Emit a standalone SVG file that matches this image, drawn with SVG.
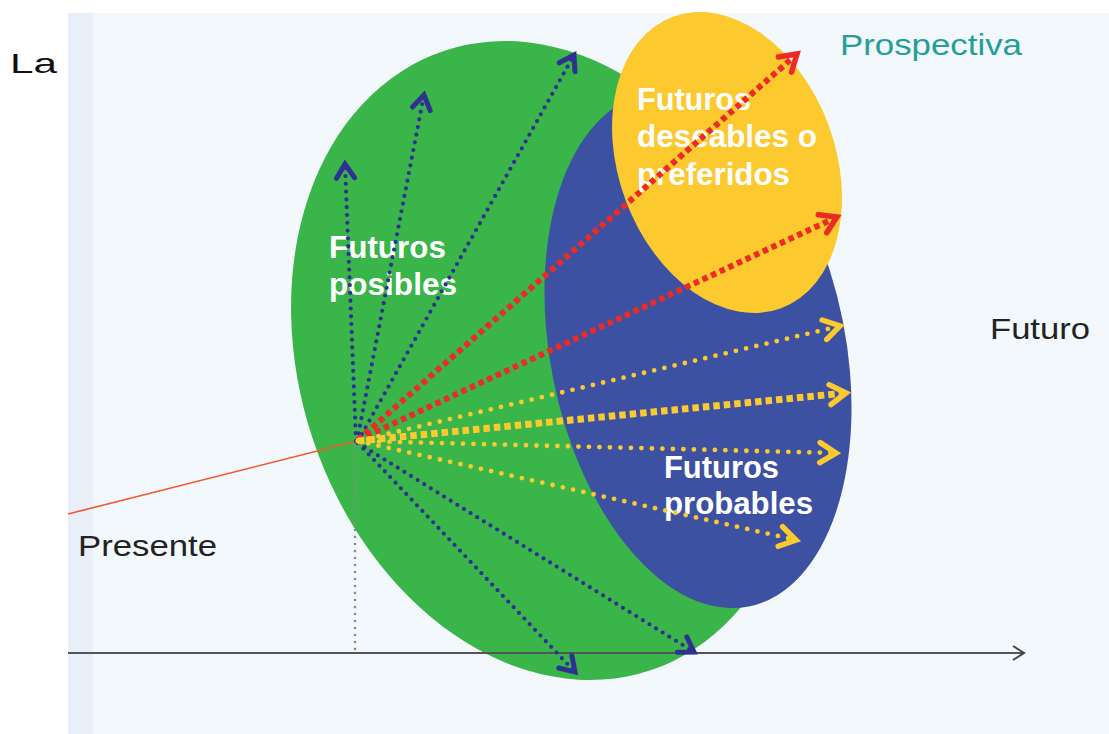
<svg xmlns="http://www.w3.org/2000/svg" width="1109" height="734" viewBox="0 0 1109 734">
<style>
.lbl{font-family:"Liberation Sans",Arial,sans-serif;font-size:30px;fill:#222}
.wt{font-family:"Liberation Sans",Arial,sans-serif;font-size:31px;font-weight:bold;fill:#ffffff}
.blue{fill:none;stroke:#2e3192;stroke-width:4.2;stroke-linecap:round;stroke-dasharray:0 7.8;marker-end:url(#mb)}
.red{fill:none;stroke:#ee2a24;stroke-width:6;stroke-dasharray:5.5 4;marker-end:url(#mr)}
.yt{fill:none;stroke:#fcc92f;stroke-width:4.8;stroke-linecap:round;stroke-dasharray:0 10.5;marker-end:url(#my)}
.yk{fill:none;stroke:#fcc92f;stroke-width:7;stroke-dasharray:6.5 4;marker-end:url(#my)}
</style>
<defs>
<marker id="mb" markerUnits="userSpaceOnUse" viewBox="-20 -14 24 28" refX="0" refY="0" markerWidth="24" markerHeight="28" orient="auto" overflow="visible">
<path d="M-14,-9 L0,0 L-14,9" fill="none" stroke="#2e3192" stroke-width="5" stroke-linecap="round"/>
</marker>
<marker id="mr" markerUnits="userSpaceOnUse" viewBox="-20 -14 24 28" refX="0" refY="0" markerWidth="24" markerHeight="28" orient="auto" overflow="visible">
<path d="M-16,-10 L0,0 L-16,10" fill="none" stroke="#ee2a24" stroke-width="5.5" stroke-linecap="round"/>
</marker>
<marker id="my" markerUnits="userSpaceOnUse" viewBox="-20 -14 24 28" refX="0" refY="0" markerWidth="24" markerHeight="28" orient="auto" overflow="visible">
<path d="M-16,-10 L0,0 L-16,10" fill="none" stroke="#fcc92f" stroke-width="5.5" stroke-linecap="round"/>
</marker>
<marker id="ma" markerUnits="userSpaceOnUse" viewBox="-14 -10 16 20" refX="0" refY="0" markerWidth="16" markerHeight="20" orient="auto" overflow="visible">
<path d="M-11,-7 L0,0 L-11,7" fill="none" stroke="#444" stroke-width="2"/>
</marker>
</defs>
<rect x="0" y="0" width="1109" height="734" fill="#ffffff"/>
<rect x="68" y="13" width="1041" height="721" fill="#f3f8fc"/>
<rect x="68" y="13" width="25" height="721" fill="#e8eff8"/>
<g id="node-posibles">
<ellipse cx="547.5" cy="360.5" rx="247.5" ry="326.5" transform="rotate(-18.4 547.5 360.5)" fill="#39b54a"/>
<text class="wt" x="329" y="258" textLength="117" lengthAdjust="spacingAndGlyphs">Futuros</text>
<text class="wt" x="329" y="295" textLength="128" lengthAdjust="spacingAndGlyphs">posibles</text>
</g>
<g id="node-probables">
<ellipse cx="698" cy="350" rx="147.7" ry="261.4" transform="rotate(-11.2 698 350)" fill="#3d51a3"/>
<text class="wt" x="664" y="478" textLength="115" lengthAdjust="spacingAndGlyphs">Futuros</text>
<text class="wt" x="664" y="514" textLength="149" lengthAdjust="spacingAndGlyphs">probables</text>
</g>
<g id="node-deseables">
<ellipse cx="727" cy="162.5" rx="108.2" ry="155.4" transform="rotate(-20.4 727 162.5)" fill="#fcc92f"/>
<text class="wt" x="637" y="110" textLength="114" lengthAdjust="spacingAndGlyphs">Futuros</text>
<text class="wt" x="637" y="147" textLength="180" lengthAdjust="spacingAndGlyphs">deseables o</text>
<text class="wt" x="637" y="185" textLength="153" lengthAdjust="spacingAndGlyphs">preferidos</text>
</g>
<g id="connectors">
<line x1="68" y1="653" x2="1024" y2="653" stroke="#555" stroke-width="2" marker-end="url(#ma)"/>
<line x1="355" y1="446" x2="355" y2="651" stroke="#8a8a8a" stroke-width="2.6" stroke-linecap="round" stroke-dasharray="0 7"/>
<line x1="68" y1="514" x2="357" y2="441" stroke="#f05a28" stroke-width="1.6"/>
<line class="blue" x1="356" y1="441" x2="345" y2="164"/>
<line class="blue" x1="357" y1="441" x2="424" y2="95"/>
<line class="blue" x1="358" y1="441" x2="574" y2="55"/>
<line class="blue" x1="358" y1="443" x2="575" y2="672"/>
<line class="blue" x1="358" y1="443" x2="694" y2="652"/>
<line class="red" x1="358" y1="440" x2="797" y2="54"/>
<line class="red" x1="358" y1="440" x2="837" y2="217"/>
<line class="yt" x1="358" y1="441" x2="840" y2="326"/>
<line class="yk" x1="358" y1="441" x2="846" y2="393"/>
<line class="yt" x1="358" y1="441" x2="836" y2="453"/>
<line class="yt" x1="358" y1="441" x2="796" y2="540"/>
</g>
<g id="labels">
<text class="lbl" x="10" y="73" textLength="47" lengthAdjust="spacingAndGlyphs" style="fill:#111;font-size:28px">La</text>
<text class="lbl" x="840" y="55" textLength="182" lengthAdjust="spacingAndGlyphs" style="fill:#259e9a">Prospectiva</text>
<text class="lbl" x="990" y="339" textLength="100" lengthAdjust="spacingAndGlyphs">Futuro</text>
<text class="lbl" x="78" y="556" textLength="139" lengthAdjust="spacingAndGlyphs">Presente</text>
</g>
</svg>
